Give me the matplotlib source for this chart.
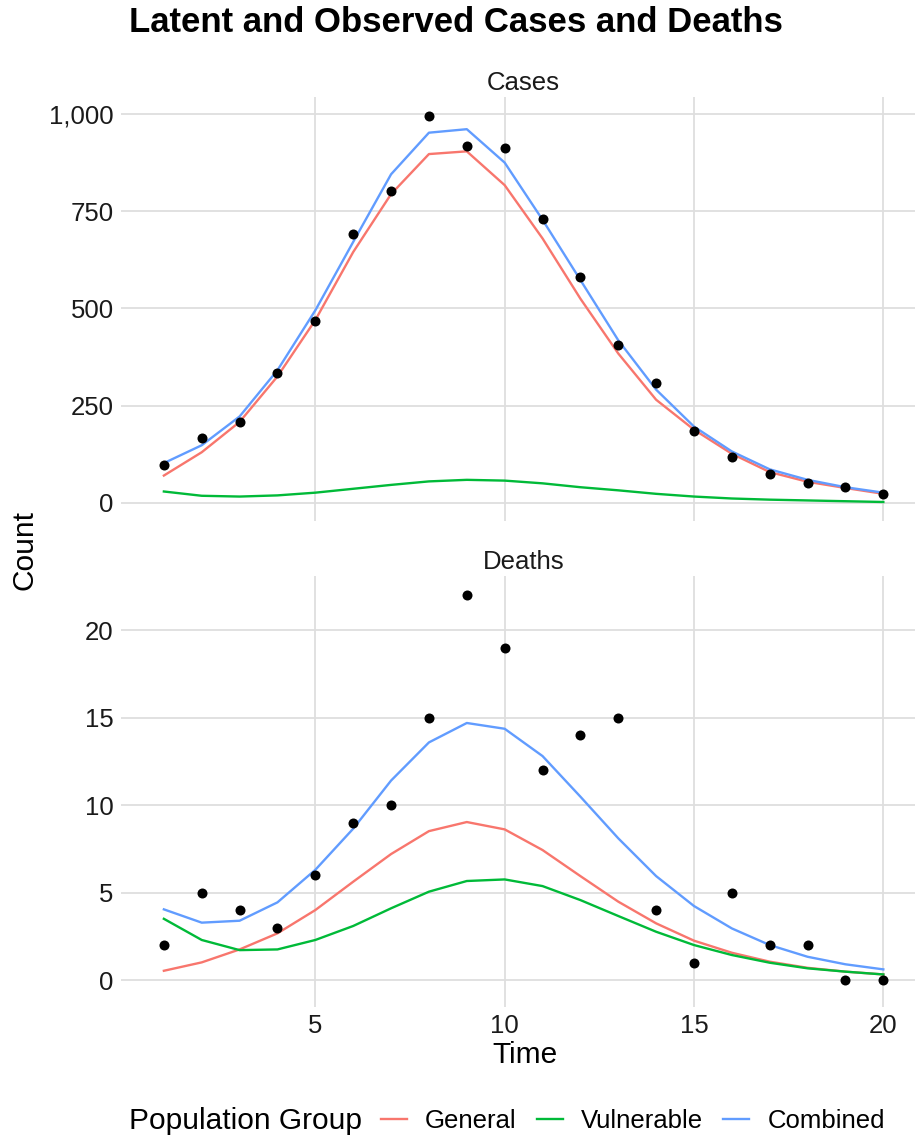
import numpy as np
import matplotlib
matplotlib.use("Agg")
from matplotlib import pyplot as plt

plt.rcParams['font.family'] = ['Liberation Sans', 'DejaVu Sans']

time = list(range(1, 21))

# cases: latent (lines) and observed (points)
cases_general = [70, 130, 208, 325, 470, 645, 794, 897, 904, 817,
                 680, 525, 384, 265, 188, 126, 79, 54, 38, 23]
cases_vulnerable = [29, 18, 16, 19, 26, 36, 46, 55, 59, 57,
                    50, 40, 32, 23, 16, 11, 8, 6, 4, 2]
cases_combined = [102, 148, 222, 341, 495, 671, 845, 952, 961, 875,
                  728, 573, 418, 291, 196, 132, 86, 59, 40, 26]
cases_observed = [98, 166, 209, 334, 467, 691, 802, 995, 917, 913,
                  730, 582, 407, 309, 184, 117, 74, 52, 41, 23]

# deaths
deaths_general = [0.53, 1.01, 1.75, 2.67, 4.0, 5.62, 7.2, 8.51, 9.03, 8.61,
                  7.43, 5.94, 4.48, 3.24, 2.25, 1.56, 1.05, 0.7, 0.48, 0.32]
deaths_vulnerable = [3.5, 2.29, 1.71, 1.75, 2.29, 3.09, 4.1, 5.05, 5.66, 5.75,
                     5.37, 4.57, 3.66, 2.76, 2.0, 1.43, 0.99, 0.67, 0.48, 0.32]
deaths_combined = [4.04, 3.28, 3.39, 4.44, 6.3, 8.65, 11.4, 13.58, 14.69, 14.36,
                   12.8, 10.48, 8.1, 5.94, 4.23, 2.95, 2.0, 1.33, 0.9, 0.61]
deaths_observed = [2, 5, 4, 3, 6, 9, 10, 15, 22, 19,
                   12, 14, 15, 4, 1, 5, 2, 2, 0, 0]

groups = ['General', 'Vulnerable', 'Combined']
colors = ['#F8766D', '#00BA38', '#619CFF']

W, H = 915, 1141
fig = plt.figure(figsize=(W / 100, H / 100), dpi=100)


def px_axes(l, t, r, b):
    return fig.add_axes([l / W, 1 - b / H, (r - l) / W, (b - t) / H])


def style(ax):
    ax.set_facecolor('white')
    for s in ax.spines.values():
        s.set_visible(False)
    ax.grid(True, color='#DEDEDE', linewidth=1.3)
    ax.set_axisbelow(True)
    ax.tick_params(length=0, labelsize=18.5, colors='#1a1a1a', pad=5)


ax1 = px_axes(120.7, 97, 926.5, 520.5)
ax2 = px_axes(120.7, 576, 926.5, 1007)

panels = [
    (ax1, 'Cases', [cases_general, cases_vulnerable, cases_combined], cases_observed),
    (ax2, 'Deaths', [deaths_general, deaths_vulnerable, deaths_combined], deaths_observed),
]
handles = []
for ax, name, series, obs in panels:
    style(ax)
    for vals, c, g in zip(series, colors, groups):
        ln, = ax.plot(time, vals, color=c, linewidth=1.7, label=g)
        if ax is ax1:
            handles.append(ln)
    ax.scatter(time, obs, color='black', s=52, zorder=5, linewidths=0)
    ax.set_xlim(-0.14, 21.14)
    ax.set_xticks([5, 10, 15, 20])
    ax.set_title(name, fontsize=18.5, pad=5, color='#1a1a1a')

ax1.set_ylim(-45.6, 1043.8)
ax1.set_yticks([0, 250, 500, 750, 1000])
ax1.set_yticklabels(['0', '250', '500', '750', '1,000'])
ax1.tick_params(axis='x', labelbottom=False)

ax2.set_ylim(-1.54, 23.09)
ax2.set_yticks([0, 5, 10, 15, 20])

fig.text(129 / W, 1 - 22 / H, 'Latent and Observed Cases and Deaths',
         fontsize=25, fontweight='bold', ha='left', va='center')
fig.text(24 / W, 1 - 550 / H, 'Count', fontsize=21.5, rotation=90,
         ha='center', va='center')
fig.text(525 / W, 1 - 1055 / H, 'Time', fontsize=21.5, ha='center', va='center')

fig.text(129 / W, 1 - 1121 / H, 'Population Group', fontsize=21.5,
         ha='left', va='center')
fig.legend(handles=handles, labels=groups, loc='center left',
           bbox_to_anchor=(381 / W, 1 - 1121 / H), ncol=3, frameon=False,
           fontsize=18.5, handlelength=1.02, handletextpad=0.7,
           columnspacing=0.78, borderpad=0, borderaxespad=0)

fig.savefig('out.png', dpi=100, facecolor='white')
